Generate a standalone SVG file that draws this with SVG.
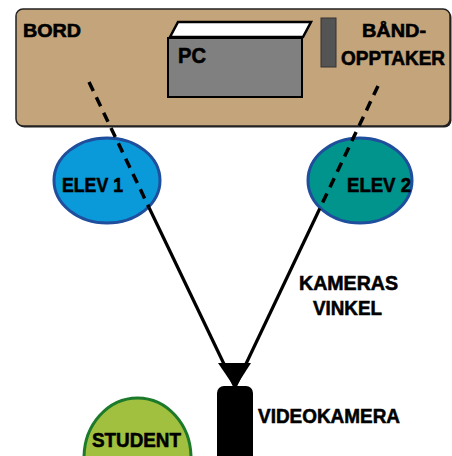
<svg xmlns="http://www.w3.org/2000/svg" width="452" height="456" viewBox="0 0 452 456">
<style>
.t{font-family:"Liberation Sans",Arial,sans-serif;font-weight:bold;fill:#000;stroke:#000;stroke-width:0.6}
.solid{stroke:#000;stroke-width:3.2;fill:none}
.dash{stroke:#000;stroke-width:3.5;fill:none;stroke-dasharray:10 7}
</style>
<rect width="452" height="456" fill="#fff"/>
<g id="bord">
<rect x="17.5" y="10.5" width="434" height="117" rx="7" fill="#222"/>
<rect x="16" y="9" width="434" height="117" rx="7" fill="#c4a57b" stroke="#222" stroke-width="1.5"/>
<text class="t" x="23" y="37" font-size="18" textLength="58" lengthAdjust="spacingAndGlyphs">BORD</text>
</g>
<g id="pc">
<polygon points="170,37 178,22 311,22 303,37" fill="#fff" stroke="#000" stroke-width="2.5"/>
<rect x="168" y="38" width="134" height="59" fill="#808080" stroke="#000" stroke-width="2"/>
<text class="t" x="178" y="63" font-size="22" textLength="28" lengthAdjust="spacingAndGlyphs">PC</text>
</g>
<g id="baandopptaker">
<rect x="321" y="18" width="15" height="49" fill="#545454" stroke="#333" stroke-width="1"/>
<text class="t" x="362" y="37" font-size="18" textLength="64" lengthAdjust="spacingAndGlyphs">BÅND-</text>
<text class="t" x="341" y="65" font-size="19.5" textLength="104" lengthAdjust="spacingAndGlyphs">OPPTAKER</text>
</g>
<g id="elev1">
<ellipse cx="107" cy="180.5" rx="53" ry="42.5" fill="#0a9ad9" stroke="#1f4e9c" stroke-width="3"/>
<text class="t" x="62" y="192" font-size="21" textLength="61" lengthAdjust="spacingAndGlyphs">ELEV 1</text>
</g>
<g id="elev2">
<ellipse cx="360" cy="180.5" rx="52" ry="42.5" fill="#00948c" stroke="#1f4e9c" stroke-width="3"/>
<text class="t" x="347" y="192" font-size="21" textLength="64" lengthAdjust="spacingAndGlyphs">ELEV 2</text>
</g>
<g id="student">
<ellipse cx="137.5" cy="458" rx="53.5" ry="60" fill="#a2c040" stroke="#1c7a2a" stroke-width="3"/>
<text class="t" x="92" y="447" font-size="21" textLength="89" lengthAdjust="spacingAndGlyphs">STUDENT</text>
</g>
<g id="videokamera">
<polygon points="218,363 251,363 235,388" fill="#000"/>
<rect x="217" y="386" width="36" height="80" rx="7" fill="#000"/>
<text class="t" x="258" y="423" font-size="21" textLength="142" lengthAdjust="spacingAndGlyphs">VIDEOKAMERA</text>
</g>
<g id="kameras-vinkel">
<text class="t" x="299" y="290" font-size="21" textLength="99" lengthAdjust="spacingAndGlyphs">KAMERAS</text>
<text class="t" x="313" y="315" font-size="21" textLength="69" lengthAdjust="spacingAndGlyphs">VINKEL</text>
</g>
<g id="connectors">
<line class="dash" x1="89" y1="82" x2="149" y2="207.5"/>
<line class="solid" x1="149" y1="207.5" x2="235" y2="387"/>
<line class="dash" x1="378" y1="86" x2="319.8" y2="208.5"/>
<line class="solid" x1="319.8" y1="208.5" x2="235" y2="387"/>
</g>
</svg>
